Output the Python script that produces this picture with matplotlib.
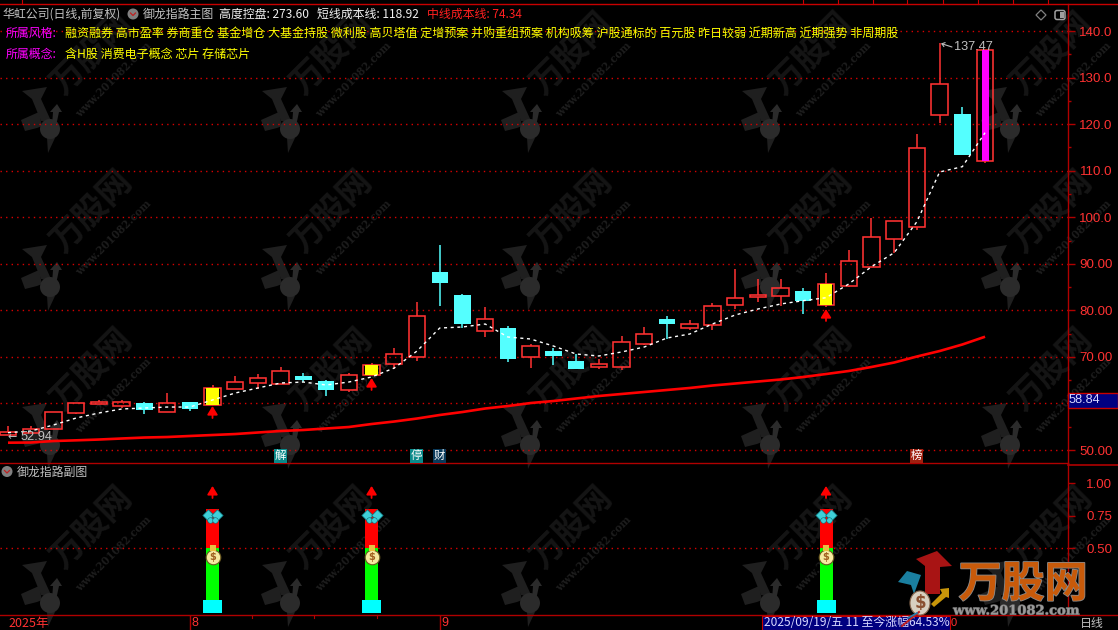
import matplotlib
matplotlib.use("Agg")
import matplotlib.pyplot as plt
import matplotlib.patheffects as pe
from matplotlib.patches import Polygon, Circle, Rectangle, FancyBboxPatch, Ellipse

plt.rcParams['font.family'] = ['Noto Sans CJK SC', 'DejaVu Sans']

# ---------- data ----------
opens = [53.30,53.73,54.46,58.02,59.95,59.52,60.04,58.11,60.32,59.74,63.18,64.46,64.12,65.90,64.83,62.96,66.11,68.54,70.05,88.24,83.30,75.63,76.21,70.05,71.27,69.12,67.90,67.83,72.84,78.15,76.28,76.92,81.22,82.87,83.15,84.16,81.22,85.30,89.38,95.39,97.97,122.02,122.18,112.15]
closes = [53.88,54.46,58.11,60.04,60.32,60.25,58.67,60.04,58.82,63.33,64.55,65.41,66.91,65.04,62.90,66.05,68.26,70.56,78.73,85.88,77.07,78.08,69.55,72.28,70.20,67.41,68.42,73.14,74.86,77.07,77.01,80.87,82.59,83.23,84.74,82.08,85.60,90.54,95.82,99.13,114.81,128.55,113.37,135.86]
highs = [55.16,55.16,58.11,60.04,60.75,60.75,60.38,62.25,60.32,63.97,65.90,66.33,67.77,66.48,65.04,66.48,68.63,71.92,81.80,94.04,83.51,80.72,76.64,72.77,71.92,70.63,69.55,74.49,76.43,78.79,77.93,81.52,88.88,86.74,86.74,84.80,87.96,92.96,99.84,99.13,117.88,137.47,123.68,135.86]
lows = [53.30,53.66,54.46,57.81,59.89,59.03,57.81,58.11,58.39,59.74,63.05,63.18,64.12,64.55,61.67,62.53,66.11,67.34,69.19,80.94,76.21,74.28,68.91,67.62,68.26,67.41,67.41,67.19,72.50,73.85,75.78,75.78,80.36,81.80,81.00,79.28,80.72,85.02,89.38,92.26,97.26,120.18,113.37,111.72]
short_cost = [53.73,54.09,55.38,56.88,57.96,58.82,59.03,59.24,59.24,60.75,62.25,63.33,64.40,64.61,63.97,64.61,65.69,67.62,71.27,76.21,76.43,77.07,74.28,73.85,72.35,70.63,70.20,71.06,72.13,74.06,74.92,77.07,79.00,80.29,81.37,82.08,82.72,85.66,89.38,92.38,99.04,109.72,110.86,118.16]
mid_cost = [51.58,51.62,51.94,52.09,52.26,52.48,52.69,52.80,53.02,53.23,53.44,53.77,54.09,54.31,54.63,54.95,55.59,56.13,56.77,57.53,58.17,58.92,59.46,60.10,60.53,61.07,61.61,62.04,62.47,62.90,63.33,63.86,64.29,64.72,65.15,65.69,66.33,66.98,67.84,68.80,70.09,71.27,72.67,74.34]
signal_idx = [9, 16, 36]
signal_arrow_tip = [59.46, 65.47, 80.29]
signal_arrow_tail = [56.88, 62.90, 77.72]
last_idx = 43

main_ticks = [50,60,70,80,90,100,110,120,130,140]
main_minor = [55,65,75,85,95,105,115,125,135]
main_labels = ['50.00','','70.00','80.00','90.00','100.0','110.0','120.0','130.0','140.0']
sub_ticks = [0.5,0.75,1.0]
sub_labels = ['0.50','0.75','1.00']
sub_red = (0.5, 0.8)
sub_green = (0.1, 0.5)
sub_cyan = (0.0, 0.1)
sub_arrow = (0.887, 0.98)
sub_butterfly = 0.742
sub_bag = 0.432

style_items = "融资融券 高市盈率 券商重仓 基金增仓 大基金持股 微利股 高贝塔值 定增预案 并购重组预案 机构吸筹 沪股通标的 百元股 昨日较弱 近期新高 近期强势 非周期股"
concept_items = "含H股 消费电子概念 芯片 存储芯片"

# ---------- layout ----------
W, H = 1118, 630
RED = '#ff3232'
AXC = '#b00000'
CY = '#54ffff'
def rect(x0, y0, x1, y1):
    return [x0/W, 1-y1/H, (x1-x0)/W, (y1-y0)/H]

fig = plt.figure(figsize=(W/100, H/100), dpi=100, facecolor='black')

bg = fig.add_axes([0,0,1,1], zorder=0); bg.set_xlim(0,W); bg.set_ylim(H,0); bg.axis('off')
ax = fig.add_axes(rect(0,4,1068,463), zorder=1); ax.patch.set_alpha(0)
sub = fig.add_axes(rect(0,463,1068,615), zorder=1); sub.patch.set_alpha(0)
fg = fig.add_axes([0,0,1,1], zorder=2); fg.set_xlim(0,W); fg.set_ylim(H,0); fg.axis('off'); fg.patch.set_alpha(0)

# ---------- watermark ----------
def bird(a, cx, cy, c1='#1f1f1f', c2='#2b2b2b', z=1):
    a.add_patch(Polygon([(cx-28,cy-38),(cx-3,cy-42),(cx-9,cy-30),(cx+2,cy-6),(cx-9,cy-8),(cx-18,cy-30)],fc=c1,ec='none',zorder=z))
    a.add_patch(Polygon([(cx-29,cy-9),(cx-11,cy-17),(cx-8,cy-3),(cx-13,cy-1),(cx-25,cy+2)],fc=c1,ec='none',zorder=z))
    a.add_patch(Polygon([(cx+7,cy-25),(cx+12,cy-17),(cx+9,cy-17),(cx+6,cy-3),(cx+2,cy-3),(cx+3,cy-17),(cx,cy-17)],fc=c2,ec='none',zorder=z))
    a.add_patch(Polygon([(cx-3,cy+9),(cx+5,cy+9),(cx-2,cy+24)],fc=c1,ec='none',zorder=z))
    a.add_patch(Circle((cx,cy),10,fc=c2,ec='none',zorder=z))

for bx in [50,290,530,770,1010]:
    for by in [129,287,445,603]:
        bg.text(bx+42, by-75, '万股网', color='#151515', fontsize=24, fontweight='bold', rotation=45,
                ha='center', va='center', rotation_mode='anchor', clip_on=True)
        bg.text(bx+64, by-49, 'www.201082.com', color='#1d1d1d', fontsize=7.6, family='DejaVu Serif',
                fontweight='bold', rotation=45, ha='center', va='center', rotation_mode='anchor', clip_on=True)
        bird(bg, bx, by)

# ---------- main panel ----------
n = len(opens)
xs = list(range(n))
ax.set_xlim(-0.352, 46.65)
ax.set_ylim(47.22, 145.80)
BW = 0.72
for i in xs:
    o, c, h, l = opens[i], closes[i], highs[i], lows[i]
    top, bot = max(o, c), min(o, c)
    down = c < o
    col = CY if down else RED
    if h > top:
        ax.vlines(i, top, h, color=col, lw=1.1, zorder=2)
    if l < bot:
        ax.vlines(i, l, bot, color=col, lw=1.1, zorder=2)
    if down:
        ax.bar(i, top-bot, BW, bottom=bot, color=CY, lw=0, zorder=3)
    else:
        ax.bar(i, top-bot, BW, bottom=bot, facecolor='none', edgecolor=RED, lw=1.15, zorder=3)
    if i in signal_idx:
        ax.bar(i, top-bot, 0.57, bottom=bot, color='#ffff00', lw=0, zorder=3)
    if i == last_idx:
        ax.bar(i, top-bot, 0.31, bottom=bot, color='#ff00ff', lw=0, zorder=3)

ax.plot(xs, mid_cost, color='#ff0000', lw=1.9, zorder=4, solid_capstyle='butt')
ax.plot(xs, short_cost, color='white', lw=1.0, dashes=(2.2,2.6), zorder=5)

ARROW = dict(arrowstyle='-|>,head_width=0.22,head_length=0.36', color='#ff0000',
             lw=1.3, mutation_scale=14, shrinkA=0, shrinkB=0)
for i, tip, tail in zip(signal_idx, signal_arrow_tip, signal_arrow_tail):
    ax.annotate('', xy=(i, tip), xytext=(i, tail), zorder=6, arrowprops=ARROW)

ax.set_yticks(main_ticks)
ax.set_yticklabels(main_labels)
ax.set_yticks(main_minor, minor=True)
ax.set_xticks([])
ax.yaxis.tick_right()
ax.tick_params(axis='y', which='major', length=5, width=1, color=AXC, labelcolor=RED, labelsize=9.6, pad=27)
ax.tick_params(axis='y', which='minor', length=2.5, width=1, color=AXC)
for t in ax.yaxis.get_majorticklabels():
    t.set_ha('right'); t.set_family(['Liberation Sans'])
ax.yaxis.grid(True, which='major', color='#d80000', lw=1.0, linestyle=(0,(1,3)), zorder=1)
ax.set_axisbelow(True)
for s in ['left','top']:
    ax.spines[s].set_visible(False)
for s in ['right','bottom']:
    ax.spines[s].set_color(AXC); ax.spines[s].set_linewidth(1.0)

# ---------- sub panel ----------
sub.set_xlim(-0.352, 46.65)
sub.set_ylim(-0.0154, 1.157)
sub.axhline(0.5, color='#d80000', lw=1.0, linestyle=(0,(1,3)), zorder=1)
for i in signal_idx:
    sub.bar(i, sub_red[1]-sub_red[0], 13/22.72, bottom=sub_red[0], color='#ff0000', lw=0, zorder=2)
    sub.bar(i, sub_green[1]-sub_green[0], 13/22.72, bottom=sub_green[0], color='#00ff00', lw=0, zorder=2)
    sub.bar(i, sub_cyan[1]-sub_cyan[0], 19/22.72, bottom=sub_cyan[0], color='#00ffff', lw=0, zorder=2)
    sub.annotate('', xy=(i, sub_arrow[1]), xytext=(i, sub_arrow[0]), zorder=6, arrowprops=ARROW)
    # butterfly
    sub.scatter([i-0.22, i+0.22], [sub_butterfly+0.014]*2, marker='D', s=34, color='#3fd0d8', edgecolor='#0a6a70', lw=0.5, zorder=5)
    sub.scatter([i-0.12, i+0.12], [sub_butterfly-0.026]*2, marker='o', s=16, color='#3fd0d8', edgecolor='#0a6a70', lw=0.4, zorder=5)
    # money bag
    sub.scatter([i], [sub_bag], marker='o', s=110, color='#f6e9a0', edgecolor='#6b5a20', lw=0.8, zorder=5)
    sub.scatter([i], [sub_bag+0.066], marker='s', s=14, color='#e8c040', lw=0, zorder=5)
    sub.text(i, sub_bag, '$', color='#a06020', fontsize=7, fontweight='bold', ha='center', va='center',
             family='DejaVu Sans', zorder=6, parse_math=False)

sub.set_yticks(sub_ticks)
sub.set_yticklabels(sub_labels)
sub.set_xticks([8, 19])
sub.set_xticklabels([])
sub.yaxis.tick_right()
sub.tick_params(axis='y', length=5, width=1, color=AXC, labelcolor=RED, labelsize=9.6, pad=27)
for t in sub.yaxis.get_majorticklabels():
    t.set_ha('right'); t.set_family(['Liberation Sans'])
sub.tick_params(axis='x', length=11, width=1, color=AXC)
for s in ['left','top']:
    sub.spines[s].set_visible(False)
for s in ['right','bottom']:
    sub.spines[s].set_color(AXC); sub.spines[s].set_linewidth(1.0)

# ---------- frame extras ----------
fg.plot([0,W],[4,4], color='#c80000', lw=1)
for tx in [22,803,838,873,907,943,978,1013,1048]:
    fg.plot([tx,tx],[0,4], color='#c80000', lw=0.8)
fg.plot([1068,W],[615,615], color=AXC, lw=1)
fg.plot([1068,W],[464.5,464.5], color=AXC, lw=1.2)
for tx in [252,314,377]:
    fg.plot([tx,tx],[615,618], color=AXC, lw=0.8)

# ---------- header texts ----------
FS = 8.6
def T(x, y, s, c, fs=FS, **kw):
    return fg.text(x, y, s, color=c, fontsize=fs, ha=kw.pop('ha','left'), va='center', **kw)

T(2, 14, '华虹公司(日线,前复权)', '#c0c0c0')
fg.add_patch(Circle((133,14),5.5,fc='#808080',ec='none'))
fg.plot([130.5,133,135.5],[13,15.5,13], color='#c02020', lw=0.9)
T(143, 14, '御龙指路主图', '#c0c0c0')
T(219, 14, '高度控盘: 273.60', '#f0f0f0')
T(317, 14, '短线成本线: 118.92', '#f0f0f0')
T(427, 14, '中线成本线: 74.34', '#ff2020')
T(6, 33, '所属风格:', '#ff00ff')
T(65, 33, style_items, '#ffff00', fs=8.68)
T(6, 54, '所属概念:', '#ff00ff')
T(65, 54, concept_items, '#ffff00', fs=8.68)

# icons top right
fg.add_patch(Polygon([(1041,10),(1046,15),(1041,20),(1036,15)], fc='none', ec='#808080', lw=0.9))
fg.add_patch(FancyBboxPatch((1055,10.5),10,9, boxstyle='round,pad=0,rounding_size=2', fc='none', ec='#a0a0a0', lw=1.1))
fg.add_patch(Rectangle((1060,12),4,6, fc='#a0a0a0', ec='none'))

# price labels
fg.annotate('', xy=(941,43.5), xytext=(952,47), arrowprops=dict(arrowstyle='->,head_width=0.15,head_length=0.2', color='#c0c0c0', lw=0.8, shrinkA=0, shrinkB=0))
T(954, 47, '137.47', '#c0c0c0', fs=9.2, family=['Liberation Sans'])
T(8, 437.5, '←', '#c0c0c0', fs=8, family=['DejaVu Sans'])
T(21, 437.5, '52.94', '#c0c0c0', fs=9.2, family=['Liberation Sans'])

# tags
for tx, s, col in [(274,'解','#0a8a8a'),(410,'停','#0a8a8a'),(433,'财','#0a3a5a'),(910,'榜','#a02010')]:
    fg.add_patch(Rectangle((tx,449),13,13.5, fc=col, ec='none'))
    T(tx+6.5, 455.5, s, 'white', ha='center', fs=8.2)

# current price box
fg.add_patch(Rectangle((1068,393),50,15, fc='#000080', ec='#c80000', lw=1))
T(1069, 400, '58.84', '#d8d8ff', fs=9.2, family=['Liberation Sans'])

# sub title
fg.add_patch(Circle((7,471.5),5.5,fc='#808080',ec='none'))
fg.plot([4.5,7,9.5],[470.5,473,470.5], color='#c02020', lw=0.9)
T(17, 472, '御龙指路副图', '#c0c0c0')

# bottom axis
T(8, 623, '2025年', RED, fs=9)
T(191, 623, '8', RED, family=['Liberation Sans'], fs=9)
T(441, 623, '9', RED, family=['Liberation Sans'], fs=9)
fg.add_patch(Rectangle((762,615.5),188,14, fc='#000080', ec='#c80000', lw=0.8))
T(764, 623, '2025/09/19/五 11 至今涨幅64.53%', '#d8d8ff', fs=8.6)
T(951, 623, '0', RED, fs=8, family=['Liberation Sans'])
T(1080, 623, '日线', '#c0c0c0')

# ---------- big logo ----------
fg.add_patch(Polygon([(937,551),(952,566),(940,567),(940,594),(925,594),(925,566),(916,559)], fc='#a81414', ec='none', zorder=5))
fg.add_patch(Polygon([(898,582),(907,571),(921,575),(914,594),(911,585)], fc='#1a7fa0', ec='none', zorder=5))
fg.add_patch(Polygon([(949,588),(940,589),(942,593),(931,604),(934,607),(946,597),(949,598)], fc='#c8960a', ec='none', zorder=5))
fg.add_patch(Ellipse((920,603),20,24, fc='#d8d0c0', ec='#8a6a50', lw=0.8, zorder=6))
T(920, 603, '$', '#8a5030', fs=12, ha='center', family=['DejaVu Sans'], fontweight='bold', zorder=7, parse_math=False)
fg.plot([902,919],[626,612], color='#c02020', lw=1.4, zorder=6)
fg.plot([908,917],[618,613], color='#2080b0', lw=1.2, zorder=6)
T(1023, 584, '万股网', '#c85a0a', fs=31, ha='center', fontweight='bold', zorder=7,
  path_effects=[pe.withStroke(linewidth=1.2, foreground='#8a8a8a')])
T(1016, 611, 'www.201082.com', '#9a9a9a', fs=9.4, ha='center', family=['DejaVu Serif'], fontweight='bold', zorder=7,
  path_effects=[pe.withStroke(linewidth=0.8, foreground='#5a5a5a')])

fig.savefig('out.png', dpi=100, facecolor='black')
